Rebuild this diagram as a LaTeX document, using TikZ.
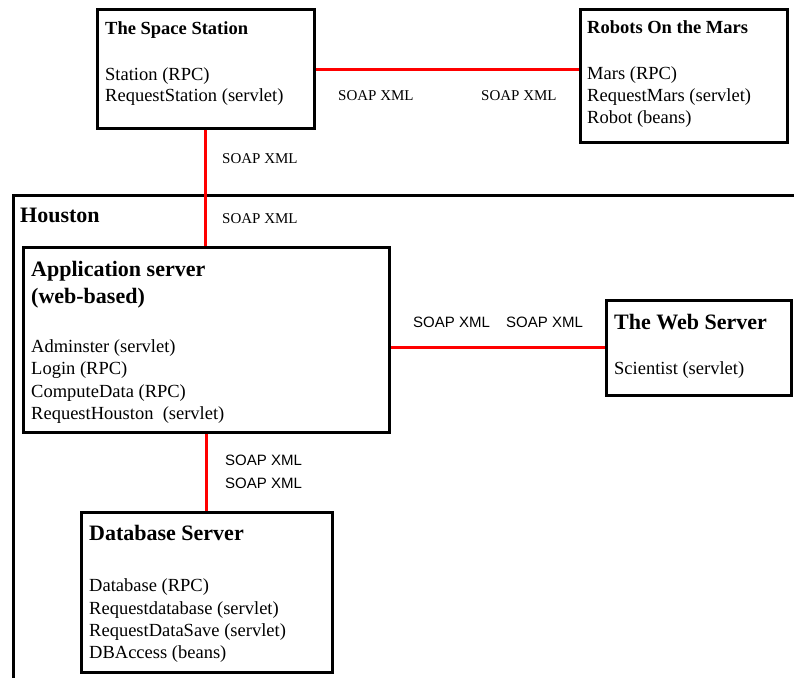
\documentclass[tikz,border=0pt]{standalone}
\usepackage{fontspec}
\setmainfont{Liberation Serif}
\setsansfont{Liberation Sans}
\begin{document}
\begin{tikzpicture}[x=1pt,y=-1pt,
  box/.style={draw, line width=3pt, inner sep=0pt},
  frame/.style={draw, line width=3pt},
  link/.style={draw=red, line width=3pt},
  body/.style={anchor=base west, inner sep=0pt, font=\fontsize{18.5}{22}\selectfont},
  htitle/.style={anchor=base west, inner sep=0pt, font=\fontsize{18.5}{22}\selectfont\bfseries},
  hbig/.style={anchor=base west, inner sep=0pt, font=\fontsize{22}{26}\selectfont\bfseries},
  soapserif/.style={anchor=base west, inner sep=0pt, font=\fontsize{15}{18}\selectfont},
  soapsans/.style={anchor=base west, inner sep=0pt, font=\fontsize{15}{18}\selectfont\sffamily}]
\useasboundingbox (0,0) rectangle (794,677);

% Houston frame (extends beyond the picture)
\draw[frame] (13,700) -- (13,195) -- (820,195);
\node[hbig] (hou) at (20,222.7) {Houston};

% boxes
\node[box, minimum width=217pt, minimum height=118pt] (ss) at (205.5,69) {};
\node[box, minimum width=207pt, minimum height=132pt] (mars) at (683.5,76) {};
\node[box, minimum width=366pt, minimum height=185pt] (app) at (206,339.5) {};
\node[box, minimum width=185pt, minimum height=95pt] (web) at (698.5,347.5) {};
\node[box, minimum width=251pt, minimum height=160pt] (db) at (206.5,592) {};

% connectors
\draw[link] (ss.east) -- (ss.east -| mars.west);
\draw[link] (ss.south) -- (ss.south |- app.north);
\draw[link] (web.west) -- (web.west -| app.east);
\draw[link] (app.south) -- (app.south |- db.north);

% Space Station text
\node[htitle] (sst) at (105,34.3) {The Space Station};
\node[body] (ss1) at (105,80) {Station (RPC)};
\node[body] (ss2) at (105,101.7) {RequestStation (servlet)};

% Robots text
\node[htitle] (mt) at (587,34) {Robots On the Mars};
\node[body] (m1) at (587,79.5) {Mars (RPC)};
\node[body] (m2) at (587,101.7) {RequestMars (servlet)};
\node[body] (m3) at (587,123.5) {Robot (beans)};

% Application server text
\node[hbig] (at1) at (31,276) {Application server};
\node[hbig] (at2) at (31,303) {(web-based)};
\node[body] (a1) at (31,352) {Adminster (servlet)};
\node[body] (a2) at (31,374.5) {Login (RPC)};
\node[body] (a3) at (31,397) {ComputeData (RPC)};
\node[body] (a4) at (31,419) {RequestHouston\ \ (servlet)};

% Web server text
\node[hbig] (wt) at (614,329) {The Web Server};
\node[body] (w1) at (614,374) {Scientist (servlet)};

% Database server text
\node[hbig] (dt) at (89,540.7) {Database Server};
\node[body] (d1) at (89,591.7) {Database (RPC)};
\node[body] (d2) at (89,614) {Requestdatabase (servlet)};
\node[body] (d3) at (89,636) {RequestDataSave (servlet)};
\node[body] (d4) at (89,658) {DBAccess (beans)};

% SOAP XML labels
\node[soapserif] (s1) at (338,100) {SOAP XML};
\node[soapserif] (s2) at (481,100) {SOAP XML};
\node[soapserif] (s3) at (222,163) {SOAP XML};
\node[soapserif] (s4) at (222,223) {SOAP XML};
\node[soapsans] (s5) at (413,327) {SOAP XML};
\node[soapsans] (s6) at (506,327) {SOAP XML};
\node[soapsans] (s7) at (225,465.7) {SOAP XML};
\node[soapsans] (s8) at (225,488) {SOAP XML};
\end{tikzpicture}
\end{document}
